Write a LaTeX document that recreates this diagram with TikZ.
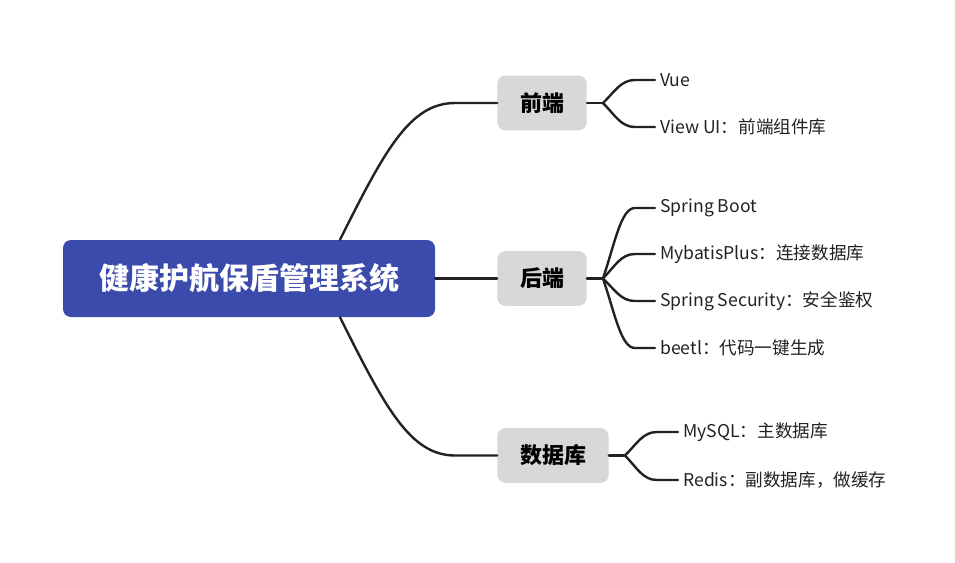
\documentclass[tikz,border=0pt]{standalone}
\usepackage{fontspec}
\setmainfont{Noto Sans CJK SC}
\usetikzlibrary{calc}
\definecolor{rootblue}{RGB}{58,75,171}
\definecolor{boxgray}{RGB}{216,216,216}
\definecolor{linegray}{RGB}{34,34,34}
\def\twig(#1)(#2){\draw[branch] (#1) .. controls ($(#1)!0.5!(#1|-#2)+(12,0)$) and ($(#1|-#2)+(18,0)$) .. ($(#1|-#2)+(32,0)$) -- ($(#2)+(-5,0)$);}

\begin{document}
\begin{tikzpicture}[x=0.75pt,y=-0.75pt,
		branch/.style={draw=linegray,line width=1.8pt,line cap=round},
		rootbox/.style={fill=rootblue,rounded corners=6pt,text=white,font=\bfseries\fontsize{22.5}{26}\selectfont,minimum width=279pt,minimum height=57.75pt},
		midbox/.style={fill=boxgray,rounded corners=6pt,font=\bfseries\fontsize{16.5}{20}\selectfont,inner xsep=17pt,minimum height=41pt},
		leaf/.style={anchor=west,inner sep=0pt,text=linegray,font=\fontsize{13.2}{16}\selectfont}]
		%%%%% START %%%%%
		\useasboundingbox (0,0) rectangle (955,563);
		
		\node[rootbox] (sys) at (249,278.5) {健康护航保盾管理系统};
		
		\node[midbox] (fe) at (542,103) {前端};
		\node[midbox] (be) at (542,278.5) {后端};
		\node[midbox] (db) at (553,455.5) {数据库};
		
		\draw[branch] ($(sys.north)+(91,0)$) .. controls +(45,-90) and ($(fe.west)+(-87,0)$) .. ($(fe.west)+(-42,0)$) -- (fe.west);
		\draw[branch] (sys.east) -- (be.west);
		\draw[branch] ($(sys.south)+(91,0)$) .. controls +(45,90) and ($(db.west)+(-87,0)$) .. ($(db.west)+(-42,0)$) -- (db.west);
		
		% front end
		\node[leaf] (vue) at (660,80) {Vue};
		\node[leaf] (viewui) at (660,127) {View UI：前端组件库};
		\draw[branch] (fe.east) -- ++(16,0) coordinate (jfe);
		\twig(jfe)(vue.west)
		\twig(jfe)(viewui.west)
		
		% back end
		\node[leaf] (boot) at (660,208) {Spring Boot};
		\node[leaf] (mybatis) at (660,254) {MybatisPlus：连接数据库};
		\node[leaf] (security) at (660,301) {Spring Security：安全鉴权};
		\node[leaf] (beetl) at (660,348) {beetl：代码一键生成};
		\draw[branch] (be.east) -- ++(16,0) coordinate (jbe);
		\twig(jbe)(boot.west)
		\twig(jbe)(mybatis.west)
		\twig(jbe)(security.west)
		\twig(jbe)(beetl.west)
		
		% database
		\node[leaf] (mysql) at (683,432) {MySQL：主数据库};
		\node[leaf] (redis) at (683,480) {Redis：副数据库，做缓存};
		\draw[branch] (db.east) -- ++(16,0) coordinate (jdb);
		\twig(jdb)(mysql.west)
		\twig(jdb)(redis.west)
		%%%%% END %%%%%
\end{tikzpicture}
\end{document}
